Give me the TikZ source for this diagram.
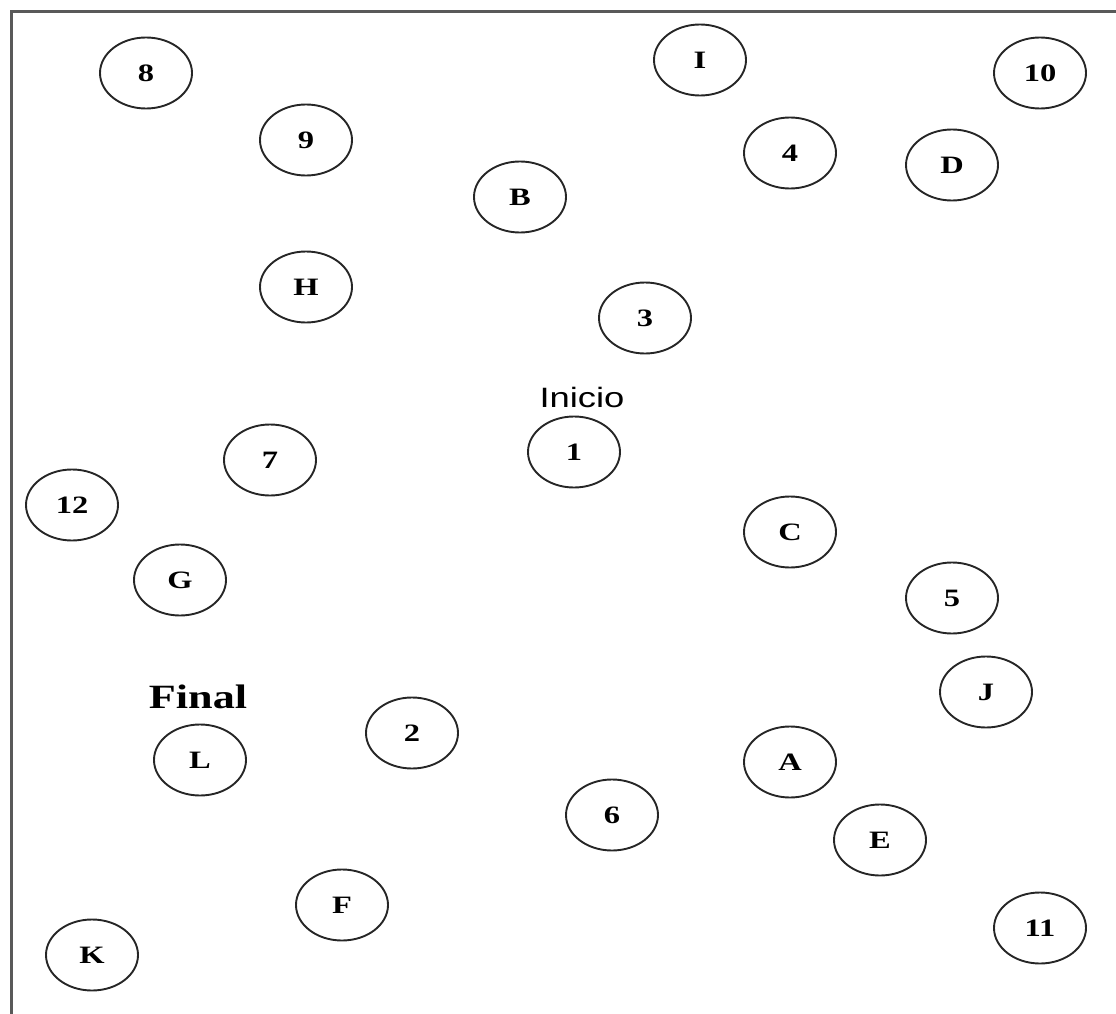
\documentclass[tikz,border=0pt]{standalone}
\usepackage{fontspec}
\usetikzlibrary{positioning, shapes.geometric}
\newfontfamily\labelfont[FakeStretch=1.3]{Liberation Serif}
\newfontfamily\notefont[FakeStretch=1.3]{Liberation Sans}

\begin{document}
\begin{tikzpicture}[
    x=1pt, y=-1pt,
    every node/.style={inner sep=0pt},
    place/.style={
        draw=black!85,
        ellipse,
        line width=1.9pt,
        minimum width=92pt,
        minimum height=71pt,
        font=\labelfont\bfseries\fontsize{25}{25}\selectfont
    },
    note/.style={font=\notefont\fontsize{28}{28}\selectfont},
    bignote/.style={font=\labelfont\bfseries\fontsize{34}{34}\selectfont},
    frame/.style={draw=black!65, line width=3pt}
]
\useasboundingbox (0,0) rectangle (1116,1014);
% frame
\draw[frame] (11,1014) -- (11,12) -- (1120,12);
% places
\node[place] (n8) at (146,73) {8};
\node[place] (nI) at (700,60) {I};
\node[place] (n10) at (1040,73) {10};
\node[place] (n9) at (306,140) {9};
\node[place] (n4) at (790,153) {4};
\node[place] (nD) at (952,165) {D};
\node[place] (nB) at (520,197) {B};
\node[place] (nH) at (306,287) {H};
\node[place] (n3) at (645,318) {3};
\node[place] (n1) at (574,452) {1};
\node[place] (n7) at (270,460) {7};
\node[place] (n12) at (72,505) {12};
\node[place] (nC) at (790,532) {C};
\node[place] (nG) at (180,580) {G};
\node[place] (n5) at (952,598) {5};
\node[place] (nJ) at (986,692) {J};
\node[place] (n2) at (412,733) {2};
\node[place] (nL) at (200,760) {L};
\node[place] (nA) at (790,762) {A};
\node[place] (n6) at (612,815) {6};
\node[place] (nE) at (880,840) {E};
\node[place] (nF) at (342,905) {F};
\node[place] (n11) at (1040,928) {11};
\node[place] (nK) at (92,955) {K};
% labels
\node[note] (start) [above=8pt of n1, xshift=8pt] {Inicio};
\node[bignote] (finish) [above=15pt of nL, xshift=-2pt] {Final};
\end{tikzpicture}
\end{document}
